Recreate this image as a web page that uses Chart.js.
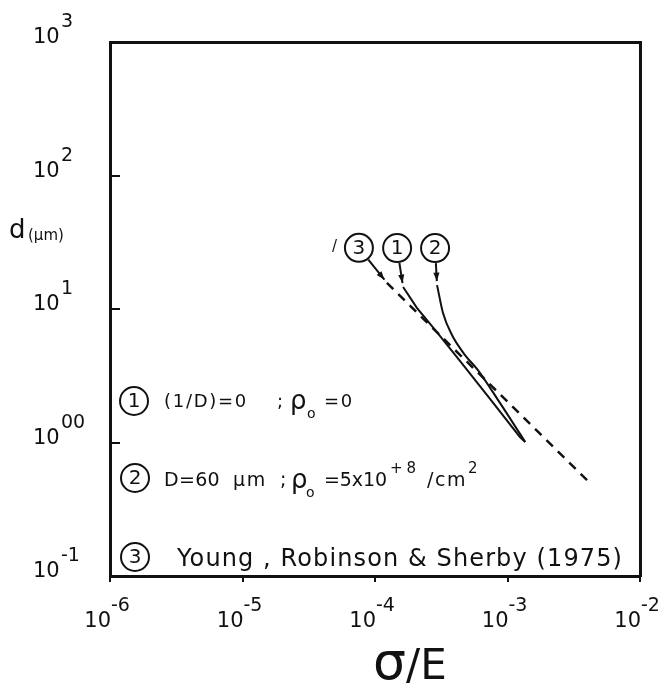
<!DOCTYPE html>
<html>
<head>
<meta charset="utf-8">
<script src="https://cdn.jsdelivr.net/npm/chart.js@4.4.1/dist/chart.umd.min.js"></script>
<style>
  html, body { margin: 0; padding: 0; background: #fff; }
</style>
</head>
<body>
<canvas id="chart" width="668" height="685"></canvas>
<script>
// axis ticks: value and the exponent printed after "10"
const xTicks = [1e-6, 1e-5, 1e-4, 1e-3, 1e-2];
const xTickExp = ['-6', '-5', '-4', '-3', '-2'];
const yTicks = [0.1, 1, 10, 100, 1000];
const yTickExp = ['-1', '00', '1', '2', '3'];

// (1) 1/D = 0, rho0 = 0
const curve1Stress = [1.63e-4, 2.07e-4, 2.84e-4, 4.39e-4, 7.38e-4, 1.24e-3, 1.36e-3];
const curve1Size   = [14.6, 10.2, 6.97, 4.07, 2.12, 1.10, 1.01];
// (2) D = 60 um, rho0 = 5e8 /cm2
const curve2Stress = [2.94e-4, 3.26e-4, 3.81e-4, 4.78e-4, 5.98e-4, 8.77e-4, 1.36e-3];
const curve2Size   = [15.1, 9.33, 6.38, 4.52, 3.49, 1.98, 1.01];
// (3) Young, Robinson & Sherby (1975)
const curve3Stress = [1.23e-4, 4.12e-3];
const curve3Size   = [15.7, 0.506];

const INK = '#111';
const FONT = '"DejaVu Sans"';

const pts = (xs, ys) => xs.map((v, i) => ({ x: v, y: ys[i] }));

function put(ctx, s, x, y, size, w, align) {
    ctx.font = size + 'px ' + FONT;
    ctx.textAlign = align || 'left';
    ctx.textBaseline = 'alphabetic';
    if (w) {
        const m = ctx.measureText(s).width;
        ctx.letterSpacing = ((w - m) / s.length) + 'px';
    }
    ctx.fillText(s, x, y);
    ctx.letterSpacing = '0px';
}

function circled(ctx, cx, cy, n) {
    ctx.beginPath();
    ctx.lineWidth = 2;
    ctx.arc(cx, cy, 14, 0, Math.PI * 2);
    ctx.stroke();
    ctx.font = '20px ' + FONT;
    ctx.textAlign = 'center';
    ctx.textBaseline = 'middle';
    ctx.fillText(n, cx, cy + 1);
}

function arrow(ctx, x0, y0, x1, y1) {
    const a = Math.atan2(y1 - y0, x1 - x0);
    ctx.lineWidth = 2;
    ctx.beginPath();
    ctx.moveTo(x0, y0);
    ctx.lineTo(x1, y1);
    ctx.stroke();
    ctx.beginPath();
    ctx.moveTo(x1, y1);
    ctx.lineTo(x1 - 9 * Math.cos(a - 0.35), y1 - 9 * Math.sin(a - 0.35));
    ctx.lineTo(x1 - 9 * Math.cos(a + 0.35), y1 - 9 * Math.sin(a + 0.35));
    ctx.closePath();
    ctx.fill();
}

// "10" with a full size raised exponent at every tick
const powerLabels = {
    id: 'powerLabels',
    afterDraw(chart) {
        const { ctx, scales: { x, y } } = chart;
        ctx.save();
        ctx.fillStyle = INK;
        x.ticks.forEach((t, i) => {
            const px = x.getPixelForTick(i);
            const k = xTicks.indexOf(t.value);
            put(ctx, '10', px + 1, x.top + 51, 21, 0, 'right');
            put(ctx, xTickExp[k], px + 1, x.top + 35, 19);
        });
        y.ticks.forEach((t, i) => {
            const py = y.getPixelForTick(i);
            const k = yTicks.indexOf(t.value);
            put(ctx, '10', y.left + 1, py + 1, 21);
            put(ctx, yTickExp[k], y.left + 29, py - 15, 19);
        });
        ctx.restore();
    }
};

// curve tags, legend rows and the horizontal axis titles
const annotate = {
    id: 'annotate',
    afterDraw(chart) {
        const { ctx, chartArea: a, scales: { x, y } } = chart;
        ctx.save();
        ctx.fillStyle = INK;
        ctx.strokeStyle = INK;

        // circled tags above the start of each curve
        const tags = [
            { n: '3', xs: curve3Stress, ys: curve3Size, dx: -28, dy: -35 },
            { n: '1', xs: curve1Stress, ys: curve1Size, dx: -6, dy: -39 },
            { n: '2', xs: curve2Stress, ys: curve2Size, dx: -2, dy: -37 }
        ];
        tags.forEach(t => {
            const px = x.getPixelForValue(t.xs[0]);
            const py = y.getPixelForValue(t.ys[0]);
            const cx = px + t.dx, cy = py + t.dy;
            circled(ctx, cx, cy, t.n);
            const len = Math.hypot(t.dx, t.dy);
            const ux = -t.dx / len, uy = -t.dy / len;
            arrow(ctx, cx + ux * 15, cy + uy * 15, px - ux * 4, py - uy * 4);
            if (t.n === '3') put(ctx, '/', cx - 27, cy + 3, 15);
        });

        // legend rows
        const lx = a.left;
        const r1 = a.top + 359, r2 = a.top + 436, r3 = a.top + 515;
        circled(ctx, lx + 24, r1, '1');
        put(ctx, '(1/D)=0', lx + 54, r1 + 6, 18, 84);
        put(ctx, ';', lx + 167, r1 + 6, 18);
        put(ctx, 'ρ', lx + 180, r1 + 8, 26);
        put(ctx, 'o', lx + 197, r1 + 17, 14);
        put(ctx, '=0', lx + 214, r1 + 6, 18, 30);

        circled(ctx, lx + 25, r2, '2');
        put(ctx, 'D=60', lx + 54, r2 + 8, 19, 56);
        put(ctx, 'μm', lx + 123, r2 + 8, 19, 34);
        put(ctx, ';', lx + 170, r2 + 8, 19);
        put(ctx, 'ρ', lx + 181, r2 + 10, 26);
        put(ctx, 'o', lx + 196, r2 + 19, 14);
        put(ctx, '=5x10', lx + 214, r2 + 8, 19, 63);
        put(ctx, '+8', lx + 280, r2 - 5, 15, 30);
        put(ctx, '/cm', lx + 317, r2 + 8, 19, 40);
        put(ctx, '2', lx + 358, r2 - 5, 15);

        circled(ctx, lx + 25, r3, '3');
        put(ctx, 'Young , Robinson & Sherby (1975)', lx + 67, r3 + 9, 24, 446);

        // axis titles
        put(ctx, 'd', 9, a.top + 196, 26);
        put(ctx, '(μm)', 28, a.top + 198, 15);
        put(ctx, 'σ', a.left + 263, 679, 52);
        put(ctx, '/E', a.left + 296, 679, 42);

        ctx.restore();
    }
};

const frame = { display: true, width: 3, color: INK };

new Chart(document.getElementById('chart'), {
    type: 'line',
    data: {
        datasets: [
            { data: pts(curve1Stress, curve1Size), borderColor: INK, borderWidth: 2, tension: 0 },
            { data: pts(curve2Stress, curve2Size), borderColor: INK, borderWidth: 2, cubicInterpolationMode: 'monotone' },
            { data: pts(curve3Stress, curve3Size), borderColor: INK, borderWidth: 2.5, borderDash: [9, 7] }
        ]
    },
    options: {
        responsive: false,
        animation: false,
        events: [],
        layout: { padding: { left: 32, right: 28, top: 42, bottom: 0 } },
        elements: { point: { radius: 0 } },
        plugins: { legend: { display: false }, tooltip: { enabled: false } },
        scales: {
            x: {
                type: 'logarithmic',
                position: 'bottom',
                min: 1e-6,
                max: 1e-2,
                afterFit: s => { s.height = 109; },
                afterBuildTicks: s => { s.ticks = xTicks.map(v => ({ value: v })); },
                border: frame,
                grid: { drawOnChartArea: false, drawTicks: true, tickLength: 6, color: INK, lineWidth: 2 },
                ticks: { display: false }
            },
            y: {
                type: 'logarithmic',
                position: 'left',
                min: 0.1,
                max: 1000,
                afterFit: s => { s.width = 78; },
                afterBuildTicks: s => { s.ticks = yTicks.map(v => ({ value: v })); },
                border: frame,
                grid: { drawOnChartArea: false, drawTicks: true, tickLength: -10, color: INK, lineWidth: 2 },
                ticks: { display: false }
            },
            xTop: {
                position: 'top',
                afterFit: s => { s.height = 0; },
                border: frame,
                grid: { drawOnChartArea: false, drawTicks: false },
                ticks: { display: false }
            },
            yRight: {
                position: 'right',
                afterFit: s => { s.width = 0; },
                border: frame,
                grid: { drawOnChartArea: false, drawTicks: false },
                ticks: { display: false }
            }
        }
    },
    plugins: [powerLabels, annotate]
});
</script>
</body>
</html>
